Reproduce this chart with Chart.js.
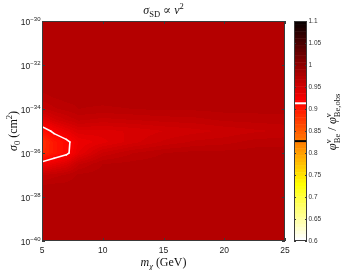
<!DOCTYPE html>
<html>
<head>
<meta charset="utf-8">
<script src="https://cdn.jsdelivr.net/npm/chart.js@4.4.0/dist/chart.umd.min.js"></script>
<style>
html,body{margin:0;padding:0;background:#fff}
#wrap{width:342px;height:270px}
</style>
</head>
<body>
<div id="wrap"><canvas id="c"></canvas></div>
<script>
// dark matter mass grid (GeV)
const massGeV = [5, 6, 7, 8, 10, 12.5, 15, 17.5, 20, 22.5, 25];
// log10 of sigma_0 (cm^2)
const logSigma = [-40, -39, -38, -37.5, -37, -36.5, -36, -35.5, -35, -34.5, -34, -33.5, -33, -32, -31, -30];
// phi_Be / phi_Be,obs, one row per logSigma value, one column per mass
const ratio = [
    [.968, .968, .968, .968, .968, .968, .968, .968, .968, .968, .968],
    [.968, .968, .968, .968, .968, .968, .968, .968, .968, .968, .968],
    [.968, .968, .968, .968, .968, .968, .968, .968, .968, .968, .968],
    [.966, .967, .967, .968, .968, .968, .968, .968, .968, .968, .968],
    [.954, .958, .961, .966, .968, .968, .968, .968, .968, .968, .968],
    [.921, .930, .938, .954, .965, .967, .968, .968, .968, .968, .968],
    [.882, .897, .908, .930, .951, .960, .965, .967, .967, .968, .968],
    [.878, .897, .908, .925, .933, .943, .951, .956, .958, .962, .963],
    [.901, .918, .929, .939, .938, .941, .945, .948, .951, .954, .956],
    [.931, .943, .950, .956, .953, .955, .957, .958, .961, .962, .963],
    [.953, .959, .962, .965, .964, .965, .966, .966, .967, .967, .967],
    [.963, .965, .967, .967, .967, .968, .968, .968, .968, .968, .968],
    [.967, .968, .968, .968, .968, .968, .968, .968, .968, .968, .968],
    [.968, .968, .968, .968, .968, .968, .968, .968, .968, .968, .968],
    [.968, .968, .968, .968, .968, .968, .968, .968, .968, .968, .968],
    [.968, .968, .968, .968, .968, .968, .968, .968, .968, .968, .968]
];
const xTicks = [5, 10, 15, 20, 25];
const yTicks = [-40, -38, -36, -34, -32, -30];
const cbTicks = [0.6, 0.65, 0.7, 0.75, 0.8, 0.85, 0.9, 0.95, 1, 1.05, 1.1];
const whiteLevel = 0.913;
const blackLevel = 0.827;
const levelStep = 0.005;

const sans = '"Liberation Sans", Arial, sans-serif';
const serif = '"Liberation Serif", "DejaVu Serif", serif';

// flipped matlab "hot" over 0.6..1.1
function hot(v, steps) {
    let t = (1.1 - v) / 0.5;
    t = Math.max(0, Math.min(1, t));
    if (steps) t = (Math.min(steps - 1, Math.floor(t * steps)) + 1) / steps;
    const r = Math.min(1, t / 0.375);
    const g = Math.max(0, Math.min(1, (t - 0.375) / 0.375));
    const b = Math.max(0, Math.min(1, (t - 0.75) / 0.25));
    return [Math.round(r * 255), Math.round(g * 255), Math.round(b * 255)];
}

function locate(arr, v) {
    let i = 0;
    while (i < arr.length - 2 && v > arr[i + 1]) i++;
    const f = (v - arr[i]) / (arr[i + 1] - arr[i]);
    return [i, Math.max(0, Math.min(1, f))];
}

function valueAt(m, l) {
    const [i, fx] = locate(massGeV, m);
    const [j, fy] = locate(logSigma, l);
    const a = ratio[j][i], b = ratio[j][i + 1], c = ratio[j + 1][i], d = ratio[j + 1][i + 1];
    return (a * (1 - fx) + b * fx) * (1 - fy) + (c * (1 - fx) + d * fx) * fy;
}

// marching squares on the grid
function contourSegments(level) {
    const segs = [];
    for (let j = 0; j < logSigma.length - 1; j++) {
        for (let i = 0; i < massGeV.length - 1; i++) {
            const cn = [[i, j], [i + 1, j], [i + 1, j + 1], [i, j + 1]];
            const pts = [];
            for (let k = 0; k < 4; k++) {
                const [i1, j1] = cn[k], [i2, j2] = cn[(k + 1) % 4];
                const a = ratio[j1][i1] - level, b = ratio[j2][i2] - level;
                if ((a < 0) !== (b < 0)) {
                    const f = a / (a - b);
                    pts.push([massGeV[i1] + f * (massGeV[i2] - massGeV[i1]),
                              logSigma[j1] + f * (logSigma[j2] - logSigma[j1])]);
                }
            }
            if (pts.length === 2) segs.push(pts);
            if (pts.length === 4) { segs.push([pts[0], pts[1]]); segs.push([pts[2], pts[3]]); }
        }
    }
    return segs;
}

// text with sub/superscripts: parts {t, f, dy} or {sup, sub, f}
function rich(ctx, parts, x, y) {
    let w = 0;
    parts.forEach(p => {
        ctx.font = p.f;
        if (p.t !== undefined) p.w = ctx.measureText(p.t).width;
        else p.w = Math.max(ctx.measureText(p.sup).width, ctx.measureText(p.sub).width);
        w += p.w;
    });
    let cx = x - w / 2;
    ctx.textAlign = 'left';
    ctx.textBaseline = 'alphabetic';
    parts.forEach(p => {
        ctx.font = p.f;
        if (p.t !== undefined) ctx.fillText(p.t, cx, y + (p.dy || 0));
        else {
            ctx.fillText(p.sup, cx, y - 5);
            ctx.fillText(p.sub, cx, y + 3.5);
        }
        cx += p.w;
    });
}

const heatmap = {
    id: 'heatmap',
    beforeDatasetsDraw(chart) {
        const {ctx, chartArea: a, scales: {x, y}} = chart;
        const left = Math.round(a.left), top = Math.round(a.top);
        const w = Math.round(a.right) - left, h = Math.round(a.bottom) - top;
        const img = ctx.createImageData(w, h);
        for (let py = 0; py < h; py++) {
            const l = y.getValueForPixel(top + py + 0.5);
            for (let px = 0; px < w; px++) {
                const m = x.getValueForPixel(left + px + 0.5);
                const v = (Math.floor(valueAt(m, l) / levelStep + 1e-9) + 0.5) * levelStep;
                const c = hot(v);
                const k = (py * w + px) * 4;
                img.data[k] = c[0]; img.data[k + 1] = c[1]; img.data[k + 2] = c[2]; img.data[k + 3] = 255;
            }
        }
        ctx.putImageData(img, left, top);
    },
    afterDraw(chart) {
        const {ctx, chartArea: a, scales: {x, y, cb}} = chart;
        ctx.save();
        // contour lines
        ctx.beginPath();
        ctx.rect(a.left, a.top, a.right - a.left, a.bottom - a.top);
        ctx.clip();
        ctx.strokeStyle = '#fff';
        ctx.lineWidth = 1.6;
        ctx.lineCap = 'round';
        contourSegments(whiteLevel).forEach(s => {
            ctx.beginPath();
            ctx.moveTo(x.getPixelForValue(s[0][0]), y.getPixelForValue(s[0][1]));
            ctx.lineTo(x.getPixelForValue(s[1][0]), y.getPixelForValue(s[1][1]));
            ctx.stroke();
        });
        ctx.strokeStyle = '#000';
        contourSegments(blackLevel).forEach(s => {
            ctx.beginPath();
            ctx.moveTo(x.getPixelForValue(s[0][0]), y.getPixelForValue(s[0][1]));
            ctx.lineTo(x.getPixelForValue(s[1][0]), y.getPixelForValue(s[1][1]));
            ctx.stroke();
        });
        ctx.restore();

        ctx.save();
        // frame + inward ticks
        ctx.strokeStyle = '#3a3a3a';
        ctx.lineWidth = 1;
        ctx.strokeRect(a.left + 0.5, a.top + 0.5, a.right - a.left - 1, a.bottom - a.top - 1);
        ctx.beginPath();
        xTicks.forEach(t => {
            const px = Math.round(x.getPixelForValue(t)) + 0.5;
            ctx.moveTo(px, a.top); ctx.lineTo(px, a.top + 3);
            ctx.moveTo(px, a.bottom); ctx.lineTo(px, a.bottom - 3);
        });
        yTicks.forEach(t => {
            const py = Math.round(y.getPixelForValue(t)) + 0.5;
            ctx.moveTo(a.left, py); ctx.lineTo(a.left + 3, py);
            ctx.moveTo(a.right, py); ctx.lineTo(a.right - 3, py);
        });
        ctx.stroke();

        // y tick labels 10^n
        ctx.fillStyle = '#222';
        yTicks.forEach(t => {
            const py = y.getPixelForValue(t);
            const exp = String(t).replace('-', '\u2212');
            ctx.textAlign = 'right';
            ctx.textBaseline = 'alphabetic';
            ctx.font = `6px ${sans}`;
            const ew = ctx.measureText(exp).width;
            ctx.fillText(exp, a.left - 1.5, py - 0.5);
            ctx.font = `8.5px ${sans}`;
            ctx.fillText('10', a.left - 1.5 - ew, py + 4);
        });

        // colorbar
        const bl = cb.left + 9, br = cb.left + 22;
        const top = cb.getPixelForValue(1.1), bot = cb.getPixelForValue(0.6);
        for (let k = 0; k < 64; k++) {
            const v1 = 1.1 - k * 0.5 / 64, v2 = 1.1 - (k + 1) * 0.5 / 64;
            const c = hot((v1 + v2) / 2, 64);
            ctx.fillStyle = `rgb(${c[0]},${c[1]},${c[2]})`;
            const p1 = cb.getPixelForValue(v1), p2 = cb.getPixelForValue(v2);
            ctx.fillRect(bl, p1, br - bl, p2 - p1 + 0.5);
        }
        ctx.lineWidth = 2;
        ctx.strokeStyle = '#fff';
        let p = cb.getPixelForValue(whiteLevel);
        ctx.beginPath(); ctx.moveTo(bl, p); ctx.lineTo(br, p); ctx.stroke();
        ctx.strokeStyle = '#000';
        p = cb.getPixelForValue(blackLevel);
        ctx.beginPath(); ctx.moveTo(bl, p); ctx.lineTo(br, p); ctx.stroke();
        ctx.lineWidth = 1;
        ctx.strokeStyle = '#3a3a3a';
        ctx.strokeRect(bl + 0.5, top + 0.5, br - bl - 1, bot - top - 1);
        ctx.beginPath();
        cbTicks.forEach(t => {
            const py = Math.round(cb.getPixelForValue(t)) + 0.5;
            ctx.moveTo(bl, py); ctx.lineTo(bl + 2, py);
            ctx.moveTo(br, py); ctx.lineTo(br - 2, py);
        });
        ctx.stroke();

        // titles
        ctx.fillStyle = '#111';
        rich(ctx, [
            {t: '\u03c3', f: `italic 12px ${serif}`},
            {t: 'SD', f: `8.5px ${serif}`, dy: 2.5},
            {t: ' \u221d ', f: `12px ${serif}`},
            {t: 'v', f: `italic 12px ${serif}`},
            {t: '2', f: `8.5px ${serif}`, dy: -5}
        ], (a.left + a.right) / 2, 14);
        rich(ctx, [
            {t: 'm', f: `italic 12px ${serif}`},
            {t: '\u03c7', f: `italic 8.5px ${serif}`, dy: 2.5},
            {t: ' (GeV)', f: `12px ${serif}`}
        ], (a.left + a.right) / 2, 266);

        ctx.save();
        ctx.translate(17, (a.top + a.bottom) / 2);
        ctx.rotate(-Math.PI / 2);
        rich(ctx, [
            {t: '\u03c3', f: `italic 12px ${serif}`},
            {t: '0', f: `8.5px ${serif}`, dy: 2.5},
            {t: ' (cm', f: `12px ${serif}`},
            {t: '2', f: `8.5px ${serif}`, dy: -5},
            {t: ')', f: `12px ${serif}`}
        ], 0, 0);
        ctx.restore();

        ctx.save();
        ctx.translate(336, 122);
        ctx.rotate(-Math.PI / 2);
        rich(ctx, [
            {t: '\u03c6', f: `italic 12.5px ${serif}`},
            {sup: '\u03bd', sub: 'Be', f: `8.5px ${serif}`},
            {t: ' / ', f: `12.5px ${serif}`},
            {t: '\u03c6', f: `italic 12.5px ${serif}`},
            {sup: '\u03bd', sub: 'Be,obs', f: `8.5px ${serif}`}
        ], 0, 0);
        ctx.restore();
        ctx.restore();
    }
};

new Chart(document.getElementById('c').getContext('2d'), {
    type: 'scatter',
    data: {datasets: []},
    options: {
        responsive: true,
        maintainAspectRatio: false,
        animation: false,
        events: [],
        layout: {padding: {top: 21, left: 0, right: 0, bottom: 0}},
        plugins: {legend: {display: false}, tooltip: {enabled: false}},
        scales: {
            x: {
                type: 'linear', min: 5, max: 25,
                afterBuildTicks: s => { s.ticks = xTicks.map(v => ({value: v})); },
                afterFit: s => { s.height = 29; },
                grid: {display: false, drawTicks: false},
                border: {display: false},
                ticks: {padding: 5, color: '#222', font: {family: sans, size: 8.5}, maxRotation: 0}
            },
            y: {
                type: 'linear', min: -40, max: -30,
                afterFit: s => { s.width = 42; },
                grid: {display: false},
                border: {display: false},
                ticks: {display: false}
            },
            cb: {
                type: 'linear', position: 'right', min: 0.6, max: 1.1,
                afterBuildTicks: s => { s.ticks = cbTicks.map(v => ({value: v})); },
                afterFit: s => { s.width = 57; },
                grid: {display: true, drawOnChartArea: false, drawTicks: true, tickLength: 22, color: 'rgba(0,0,0,0)'},
                border: {display: false},
                ticks: {padding: 1.5, color: '#333', font: {family: sans, size: 6.5}, callback: v => String(+v.toFixed(2))}
            }
        }
    },
    plugins: [heatmap]
});
</script>
</body>
</html>
